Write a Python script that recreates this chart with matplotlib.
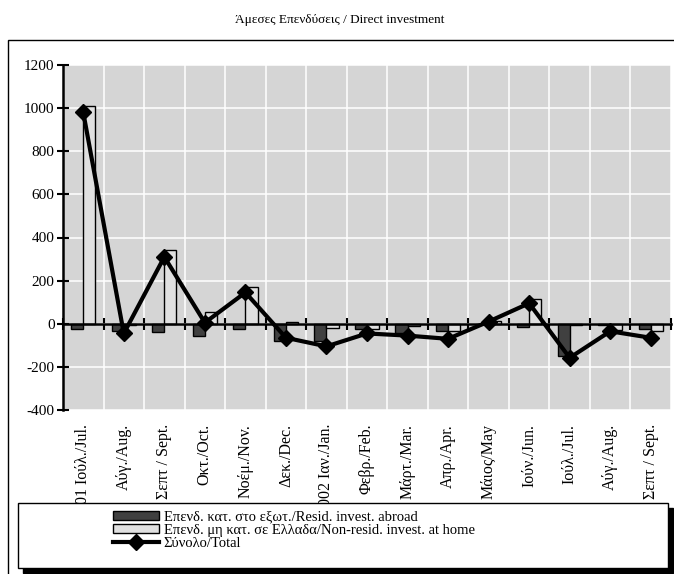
import numpy as np
import matplotlib
matplotlib.use("Agg")
import matplotlib.pyplot as plt
from matplotlib.patches import Rectangle

plt.rcParams['font.family'] = ['Liberation Serif', 'DejaVu Serif']
plt.rcParams['axes.unicode_minus'] = False

months = ["2001 Ιούλ./Jul.", "Αύγ./Aug.", "Σεπτ / Sept.", "Οκτ./Oct.", "Νοέμ./Nov.",
          "Δεκ./Dec.", "2002 Ιαν./Jan.", "Φεβρ./Feb.", "Μάρτ./Mar.", "Απρ./Apr.",
          "Μάιος/May", "Ιούν./Jun.", "Ιούλ./Jul.", "Αύγ./Aug.", "Σεπτ / Sept."]
resid_abroad = [-25, -35, -40, -55, -25, -80, -80, -25, -45, -35, -3, -15, -150, -5, -25]
nonresid_home = [1010, -5, 340, 55, 170, 10, -20, -25, -10, -35, 12, 115, -8, -30, -35]
total = [980, -45, 310, 5, 145, -65, -105, -45, -55, -70, 10, 95, -158, -35, -65]

W, H = 674, 574
fig = plt.figure(figsize=(W / 100, H / 100), dpi=100)
ax = fig.add_axes([63 / W, 1 - 410 / H, (671 - 63) / W, (410 - 65) / H])
ax.set_facecolor('#d5d5d5')

x = np.arange(len(months))
bw = 0.3
b1 = ax.bar(x - bw / 2, resid_abroad, bw, color='#404040', edgecolor='black', linewidth=1, zorder=3,
            label="Επενδ. κατ. στο εξωτ./Resid. invest. abroad")
b2 = ax.bar(x + bw / 2, nonresid_home, bw, color='#e0e0e0', edgecolor='black', linewidth=1, zorder=3,
            label="Επενδ. μη κατ. σε Ελλαδα/Non-resid. invest. at home")
ln, = ax.plot(x, total, color='black', linewidth=3, marker='D', markersize=8.5, zorder=5,
              label="Σύνολο/Total")

ax.set_xlim(-0.5, len(months) - 0.5)
ax.set_ylim(-400, 1200)
ax.set_yticks(np.arange(-400, 1201, 200))
ax.set_xticks(np.arange(len(months) + 1) - 0.5)
ax.set_xticklabels([])

ax.grid(True, color='white', linewidth=1.1, zorder=1)
ax.set_axisbelow(True)

for s in ['top', 'right']:
    ax.spines[s].set_visible(False)
ax.spines['left'].set_linewidth(1.8)
ax.spines['bottom'].set_position(('data', 0))
ax.spines['bottom'].set_linewidth(1.8)
ax.spines['bottom'].set_zorder(4)
ax.tick_params(axis='x', direction='inout', length=9, width=1.5)
ax.tick_params(axis='y', direction='inout', length=8, width=1.5, labelsize=11, pad=2)

sec = ax.secondary_xaxis(0.0)
sec.set_xticks(x)
sec.set_xticklabels(months, rotation=90, va='top', fontsize=11.5)
sec.tick_params(length=0, pad=10)
sec.spines['bottom'].set_visible(False)

fig.text(340 / W, 1 - 20 / H, "Άμεσες Επενδύσεις / Direct investment", ha='center', va='center',
         fontsize=9.5)

# outer frame
fig.add_artist(Rectangle((8 / W, -0.1), 1.2, 1 - 40 / H + 0.1, transform=fig.transFigure,
                         fill=False, edgecolor='black', linewidth=1, zorder=0.5))

# legend box with shadow
fig.add_artist(Rectangle((23 / W, 1 - 573 / H), 650 / W, 65 / H, transform=fig.transFigure,
                         facecolor='black', edgecolor='black', zorder=3))
fig.add_artist(Rectangle((18 / W, 1 - 568 / H), 650 / W, 65 / H, transform=fig.transFigure,
                         facecolor='white', edgecolor='black', linewidth=1, zorder=3.5))
leg = fig.legend(handles=[b1, b2, ln], loc='upper left', bbox_to_anchor=(104 / W, 1 - 502 / H),
                 frameon=False, fontsize=10.5, handlelength=3.2, handleheight=0.6,
                 labelspacing=0.0, handletextpad=0.3, borderpad=0.1)
leg.set_zorder(4)

fig.savefig("out.png", dpi=100)
